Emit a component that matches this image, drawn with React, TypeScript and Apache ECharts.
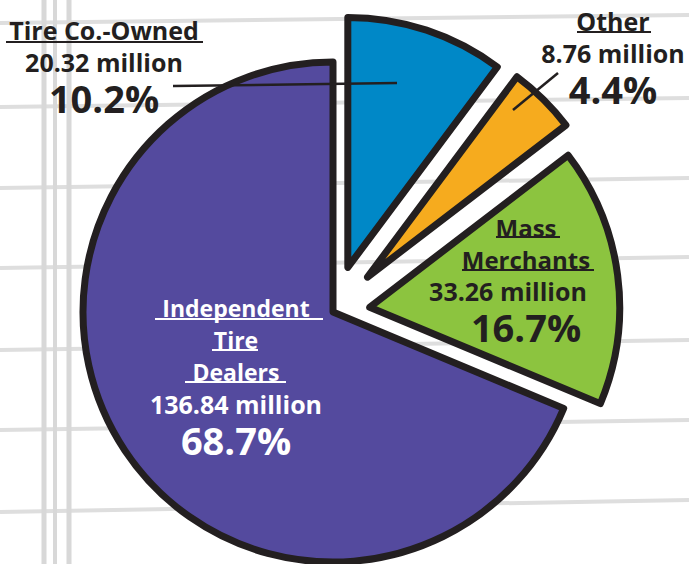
import React, { useEffect, useRef } from "react";
import * as echarts from "echarts";

// ---- data ----
const categories = ["Tire Co.-Owned", "Other", "Mass\nMerchants", "Independent\nTire\nDealers"];
const unitsMillions = [20.32, 8.76, 33.26, 136.84];
const sliceColors = ["#0088c7", "#f6ab1e", "#8cc43f", "#544a9e"];
const textColors = ["#231f20", "#231f20", "#231f20", "#ffffff"];

// ---- layout (not data) ----
const CENTER = [333, 312];
const RADIUS = 250;
const EXPLODE = [47, 49, 37, 0];
const DRAW_ORDER = [3, 2, 1, 0];
const NAME_SIZE = [25, 25, 24, 23];
const VAL_PAD_RIGHT = [0, 0, 36, 0];
const LABEL_POS = [
  { x: 104, y: 14 },
  { x: 613, y: 5 },
  { x: 526, y: 211 },
  { x: 236, y: 292 },
];
const UNDERLINES = [
  { x1: 6, x2: 203, y: 42, c: "#231f20" },
  { x1: 577, x2: 651, y: 32, c: "#231f20" },
  { x1: 496, x2: 560, y: 237, c: "#231f20" },
  { x1: 462, x2: 594, y: 270, c: "#231f20" },
  { x1: 155, x2: 323, y: 319, c: "#ffffff" },
  { x1: 212, x2: 258, y: 350, c: "#ffffff" },
  { x1: 185, x2: 286, y: 382, c: "#ffffff" },
];
const H_LINES = [
  [23, 15], [107, 98], [188, 178], [268, 257], [350, 340], [430, 420], [512, 500],
];
const V_LINES = [
  [44, 5], [55, 4], [69, 5],
];

const FONT = "'Open Sans', 'Noto Sans', sans-serif";

function explodedCenter(i: number) {
  const total = unitsMillions.reduce((a, b) => a + b, 0);
  let before = 0;
  for (let k = 0; k < i; k++) before += unitsMillions[k];
  const mid = ((before + unitsMillions[i] / 2) / total) * Math.PI * 2;
  return [CENTER[0] + EXPLODE[i] * Math.sin(mid), CENTER[1] - EXPLODE[i] * Math.cos(mid)];
}

function buildSeries(idx: number, z: number) {
  return {
    type: "pie",
    center: explodedCenter(idx),
    radius: [0, RADIUS],
    startAngle: 90,
    clockwise: true,
    percentPrecision: 1,
    silent: true,
    z,
    emphasis: { disabled: true },
    labelLine: { show: false },
    data: categories.map((name, i) => {
      const vis = i === idx;
      return {
        name,
        value: unitsMillions[i],
        itemStyle: vis
          ? { color: sliceColors[i], borderColor: "#231f20", borderWidth: 7, borderJoin: "round" }
          : { color: "rgba(0,0,0,0)", borderWidth: 0 },
        label: vis
          ? {
              show: true,
              position: "inside",
              color: textColors[i],
              align: "center",
              formatter: (p: any) => {
                const nameLines = String(p.name)
                  .split("\n")
                  .map((l: string) => `{name|${l}}`)
                  .join("\n");
                return `${nameLines}\n{val|${p.value.toFixed(2)} million}\n{pct|${p.percent.toFixed(1)}%}`;
              },
              rich: {
                name: { fontFamily: FONT, fontWeight: "bold", fontSize: NAME_SIZE[i], lineHeight: 32, color: textColors[i], align: "center" },
                val: {
                  fontFamily: FONT,
                  fontWeight: "bold",
                  fontSize: 25,
                  lineHeight: 32,
                  color: textColors[i],
                  align: "center",
                  padding: [0, VAL_PAD_RIGHT[i], 0, 0],
                },
                pct: { fontFamily: FONT, fontWeight: "bold", fontSize: 38, lineHeight: 40, color: textColors[i], align: "center" },
              },
            }
          : { show: false },
      };
    }),
    labelLayout: (params: any) => {
      const pos = LABEL_POS[params.dataIndex];
      return { x: pos.x, y: pos.y, align: "center", verticalAlign: "top" };
    },
  };
}

export default function App() {
  const ref = useRef<HTMLDivElement>(null);
  useEffect(() => {
    if (!ref.current) return;
    const chart = echarts.init(ref.current, undefined, { renderer: "svg" });
    const graphic: any[] = [];
    H_LINES.forEach(([yl, yr]) =>
      graphic.push({
        type: "line",
        z: -10,
        silent: true,
        shape: { x1: 0, y1: yl, x2: 689, y2: yr },
        style: { stroke: "#dedede", lineWidth: 4 },
      })
    );
    V_LINES.forEach(([x, w]) =>
      graphic.push({
        type: "line",
        z: -10,
        silent: true,
        shape: { x1: x, y1: 0, x2: x, y2: 564 },
        style: { stroke: "#d8d8d8", lineWidth: w },
      })
    );
    UNDERLINES.forEach((u) =>
      graphic.push({
        type: "line",
        z: 100,
        silent: true,
        shape: { x1: u.x1, y1: u.y, x2: u.x2, y2: u.y },
        style: { stroke: u.c, lineWidth: 2 },
      })
    );
    // leader lines
    graphic.push({
      type: "line",
      z: 100,
      silent: true,
      shape: { x1: 173, y1: 86, x2: 397, y2: 83 },
      style: { stroke: "#231f20", lineWidth: 2.5 },
    });
    graphic.push({
      type: "line",
      z: 100,
      silent: true,
      shape: { x1: 558, y1: 73, x2: 513, y2: 110 },
      style: { stroke: "#231f20", lineWidth: 2.5 },
    });

    chart.setOption({
      animation: false,
      backgroundColor: "#ffffff",
      graphic,
      series: DRAW_ORDER.map((idx, k) => buildSeries(idx, 2 + k)),
    });
    return () => chart.dispose();
  }, []);
  return (
    <div
      ref={ref}
      style={{ position: "fixed", left: 0, top: 0, width: 689, height: 564 }}
    />
  );
}
